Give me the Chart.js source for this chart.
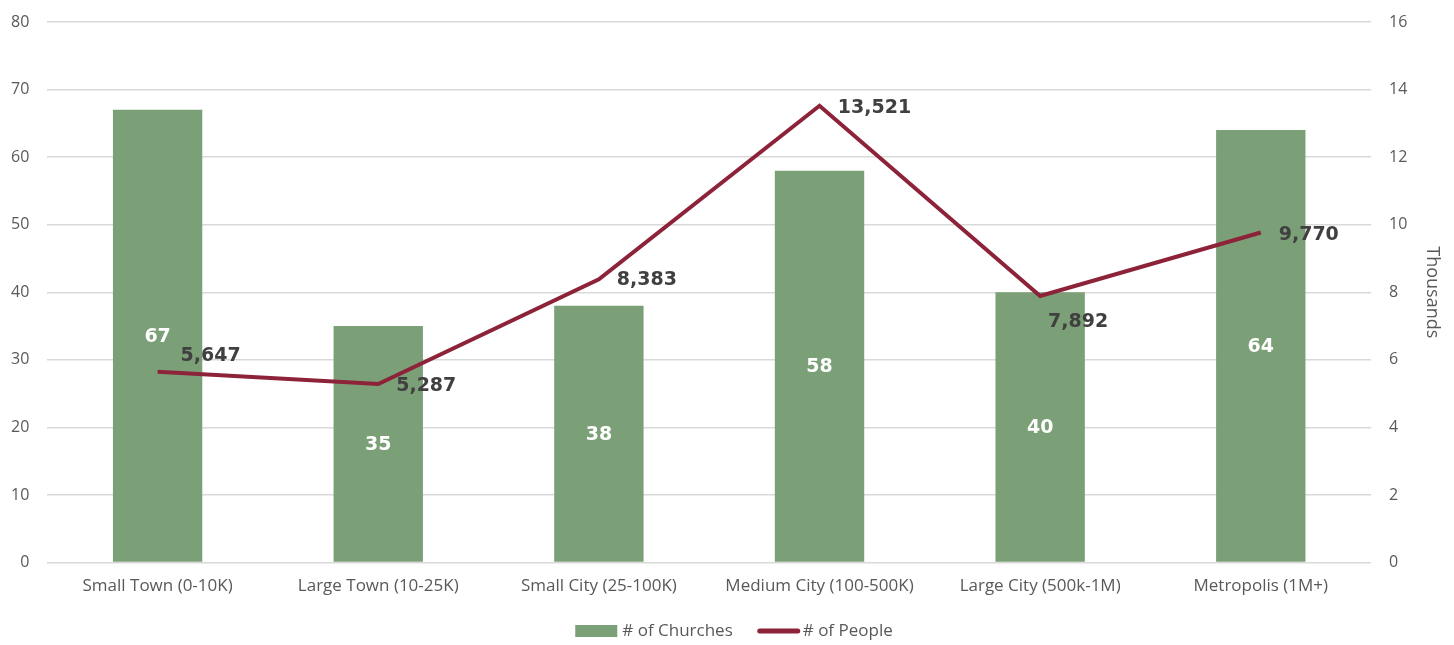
<!DOCTYPE html>
<html><head><meta charset="utf-8">
<script src="https://cdn.jsdelivr.net/npm/chart.js@4/dist/chart.umd.min.js"></script>
<style>html,body{margin:0;padding:0;background:#fff}#wrap{width:1454px;height:645px}</style>
</head><body><div id="wrap"><canvas id="c"></canvas></div>
<script>
const categories = ["Small Town (0-10K)","Large Town (10-25K)","Small City (25-100K)","Medium City (100-500K)","Large City (500k-1M)","Metropolis (1M+)"];
const churches = [67, 35, 38, 58, 40, 64];
const people = [5647, 5287, 8383, 13521, 7892, 9770];
const seriesNames = ["# of Churches", "# of People"];
const peopleLabelOffsets = [[53,-16],[48,2],[48,1],[55,2],[38,26],[48,3]];

const labelPlugin = {
  id: 'lbls',
  afterDatasetsDraw(chart) {
    const ctx = chart.ctx;
    ctx.save();
    ctx.textAlign = 'center'; ctx.textBaseline = 'middle';
    ctx.font = 'bold 19px "DejaVu Sans", sans-serif';
    const bm = chart.getDatasetMeta(0);
    bm.data.forEach((el, i) => {
      ctx.fillStyle = '#ffffff';
      const y = (el.y + el.base) / 2;
      ctx.fillText(String(churches[i]), el.x, y + 1);
    });
    const lm = chart.getDatasetMeta(1);
    lm.data.forEach((el, i) => {
      ctx.fillStyle = '#404040';
      const o = peopleLabelOffsets[i];
      ctx.fillText(people[i].toLocaleString('en-US'), el.x + o[0], el.y + o[1]);
    });
    ctx.restore();
  }
};

const legendPlugin = {
  id: 'customLegend',
  afterDraw(chart) {
    const ctx = chart.ctx;
    const ds = chart.data.datasets;
    ctx.save();
    ctx.font = '17px "Open Sans", sans-serif';
    ctx.textBaseline = 'middle'; ctx.textAlign = 'left';
    const sw = 42, gapText = 5, gapItem = 25;
    const w0 = ctx.measureText(ds[0].label).width, w1 = ctx.measureText(ds[1].label).width;
    const total = sw + gapText + w0 + gapItem + sw + 3 + w1;
    let x = 734 - total / 2;
    const y = 631;
    ctx.fillStyle = ds[0].backgroundColor;
    ctx.fillRect(x, y - 6, sw, 12);
    x += sw + gapText;
    ctx.fillStyle = '#595959';
    ctx.fillText(ds[0].label, x, y);
    x += w0 + gapItem;
    ctx.strokeStyle = ds[1].borderColor; ctx.lineWidth = 5; ctx.lineCap = 'round';
    ctx.beginPath(); ctx.moveTo(x + 2, y); ctx.lineTo(x + sw - 2, y); ctx.stroke();
    x += sw + 3;
    ctx.fillText(ds[1].label, x, y);
    ctx.restore();
  }
};

const tickFont = {family: '"Open Sans", sans-serif', size: 16, lineHeight: 0.5};
new Chart(document.getElementById('c'), {
  data: {
    labels: categories,
    datasets: [
      {type: 'bar', label: seriesNames[0], data: churches, backgroundColor: '#7b9f76', yAxisID: 'y', order: 1,
       categoryPercentage: 1.0, barPercentage: 0.405},
      {type: 'line', label: seriesNames[1], data: people, borderColor: '#8c2339', backgroundColor: '#8c2339', borderWidth: 4,
       pointRadius: 0, yAxisID: 'y1', order: 0, tension: 0}
    ]
  },
  options: {
    responsive: true, maintainAspectRatio: false, animation: false,
    layout: {padding: {left: -7, right: 11, top: 3, bottom: 36}},
    plugins: {
      tooltip: {enabled: false},
      legend: {display: false}
    },
    scales: {
      x: {grid: {display: false, drawTicks: false}, border: {display: false},
        ticks: {color: '#595959', font: {family: '"Open Sans", sans-serif', size: 17}, padding: 13, maxRotation: 0}},
      y: {position: 'left', min: 0, max: 80, ticks: {stepSize: 10, color: '#595959', font: tickFont, padding: 18},
        grid: {color: '#d9d9d9', lineWidth: 1.5, drawTicks: false}, border: {display: false}},
      y1: {position: 'right', min: 0, max: 16000, ticks: {stepSize: 2000, color: '#595959', font: tickFont, padding: 18,
          callback: v => String(v / 1000)},
        grid: {display: false, drawTicks: false}, border: {display: false},
        title: {display: true, text: 'Thousands', color: '#595959', font: {family: '"Open Sans", sans-serif', size: 18}, padding: {top: 0, bottom: -4}}}
    }
  },
  plugins: [labelPlugin, legendPlugin]
});
</script></body></html>
